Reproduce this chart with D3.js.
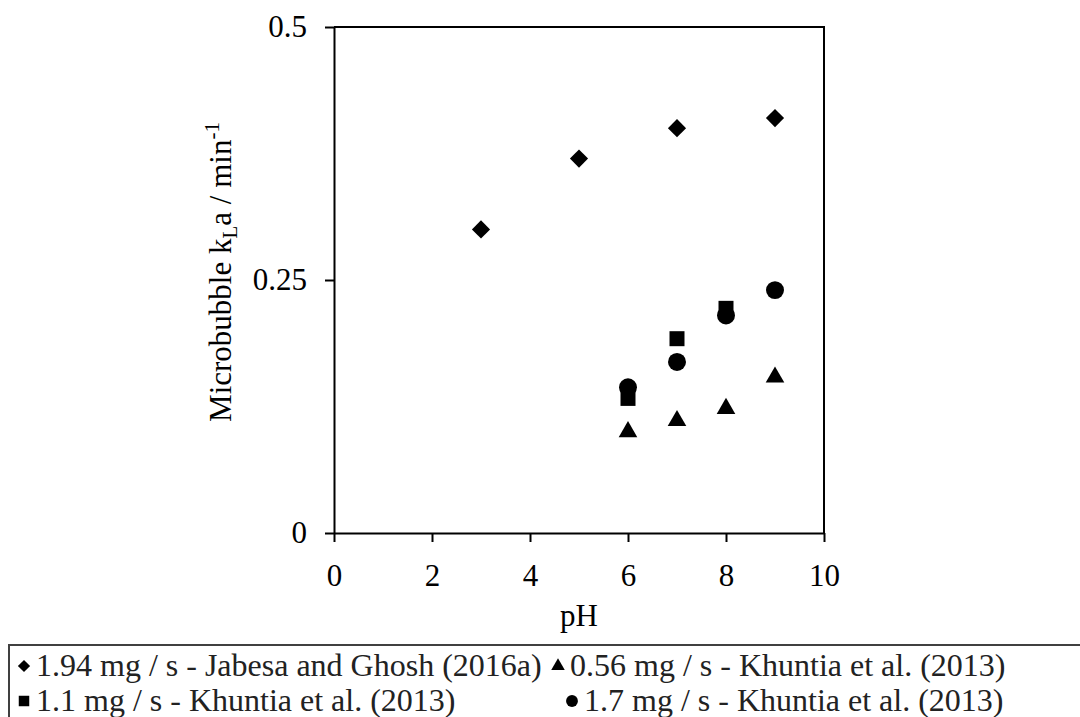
<!DOCTYPE html>
<html>
<head>
<meta charset="utf-8">
<script src="https://cdn.jsdelivr.net/npm/d3@7"></script>
<style>
  body { margin: 0; background: #fff; }
  svg { display: block; }
  svg text { font-family: "Liberation Serif", Tinos, "Times New Roman", Times, "Noto Serif", "DejaVu Serif", serif; }
</style>
</head>
<body>
<div id="vis"></div>
<script>
// data
const phJabesa = [3, 5, 7, 9]
const klaJabesa = [0.300, 0.370, 0.400, 0.410]
const phK11 = [6, 7, 8]
const klaK11 = [0.133, 0.192, 0.222]
const phK17 = [6, 7, 8, 9]
const klaK17 = [0.144, 0.169, 0.215, 0.240]
const phK056 = [6, 7, 8, 9]
const klaK056 = [0.100, 0.111, 0.123, 0.154]
const xTicks = [0, 2, 4, 6, 8, 10]
const yTicks = [0, 0.25, 0.5]
const legendLabels = [
    "1.94 mg / s - Jabesa and Ghosh (2016a)",
    "0.56 mg / s - Khuntia et al. (2013)",
    "1.1 mg / s - Khuntia et al. (2013)",
    "1.7 mg / s - Khuntia et al. (2013)"
]

const width = 1080
const height = 717

const svg = d3.select("#vis").append("svg")
    .attr("width", width)
    .attr("height", height)

//scales
const x = d3.scaleLinear().domain([0, 10]).range([334, 824])
const y = d3.scaleLinear().domain([0, 0.5]).range([533, 27])

//plot frame (top and right side)
svg.append("path")
    .attr("d", "M" + x(0) + "," + y(0.5) + "H" + x(10) + "V" + y(0))
    .attr("fill", "none")
    .attr("stroke", "#000")
    .attr("stroke-width", 2)

//x axis
const gx = svg.append("g")
    .attr("transform", "translate(0," + y(0) + ")")
    .call(d3.axisBottom(x).tickValues(xTicks).tickSize(9).tickSizeOuter(0).tickPadding(22))
gx.select(".domain").attr("stroke-width", 2)
gx.selectAll(".tick line").attr("stroke-width", 2)
gx.selectAll("text").attr("font-size", 31).attr("fill", "#000")

//y axis
const gy = svg.append("g")
    .attr("transform", "translate(" + x(0) + ",0)")
    .call(d3.axisLeft(y).tickValues(yTicks).tickSize(9).tickSizeOuter(0).tickPadding(18)
        .tickFormat(d => String(d)))
gy.select(".domain").attr("stroke-width", 2)
gy.selectAll(".tick line").attr("stroke-width", 2)
gy.selectAll("text").attr("font-size", 31).attr("fill", "#000")

//axis titles
svg.append("text")
    .attr("x", (x(0) + x(10)) / 2)
    .attr("y", 626)
    .attr("text-anchor", "middle")
    .attr("font-size", 31)
    .text("pH")

const yTitle = svg.append("text")
    .attr("transform", "translate(231," + ((y(0) + y(0.5)) / 2 - 8) + ") rotate(-90)")
    .attr("text-anchor", "middle")
    .attr("font-size", 31)
yTitle.append("tspan").text("Microbubble k")
yTitle.append("tspan").attr("font-size", 21).attr("dy", 6).text("L")
yTitle.append("tspan").attr("dy", -6).text("a / min")
yTitle.append("tspan").attr("font-size", 21).attr("dy", -12).text("-1")

//markers
const diamond = d3.symbol().type(d3.symbolSquare).size(165)
const square = d3.symbol().type(d3.symbolSquare).size(225)
const circle = d3.symbol().type(d3.symbolCircle).size(254)
const triangle = d3.symbol().type(d3.symbolTriangle).size(150)

function drawSeries(xs, ys, sym, rot) {
    svg.append("g").selectAll("path")
        .data(xs.map((d, i) => [d, ys[i]]))
        .enter()
        .append("path")
        .attr("d", sym)
        .attr("transform", d => "translate(" + x(d[0]) + "," + y(d[1]) + ") rotate(" + rot + ")")
        .attr("fill", "#000")
}

drawSeries(phJabesa, klaJabesa, diamond, 45)
drawSeries(phK056, klaK056, triangle, 0)
drawSeries(phK11, klaK11, square, 0)
drawSeries(phK17, klaK17, circle, 0)

//legend box (runs off the right side)
svg.append("path")
    .attr("d", "M9,717V645H1080")
    .attr("fill", "none")
    .attr("stroke", "#404040")
    .attr("stroke-width", 2)

const legendItems = [
    {sym: d3.symbol().type(d3.symbolSquare).size(75), rot: 45, mx: 24, tx: 36, ty: 676},
    {sym: d3.symbol().type(d3.symbolTriangle).size(80), rot: 0, mx: 558, tx: 570, ty: 676},
    {sym: d3.symbol().type(d3.symbolSquare).size(110), rot: 0, mx: 24, tx: 36, ty: 711},
    {sym: d3.symbol().type(d3.symbolCircle).size(110), rot: 0, mx: 572, tx: 584, ty: 711}
]

const leg = svg.append("g").selectAll("g")
    .data(legendItems)
    .enter()
    .append("g")

leg.append("path")
    .attr("d", d => d.sym())
    .attr("transform", d => "translate(" + d.mx + "," + (d.ty - 10) + ") rotate(" + d.rot + ")")
    .attr("fill", "#000")

leg.append("text")
    .attr("x", d => d.tx)
    .attr("y", d => d.ty)
    .attr("font-size", 32)
    .attr("fill", "#222")
    .text((d, i) => legendLabels[i])
</script>
</body>
</html>
